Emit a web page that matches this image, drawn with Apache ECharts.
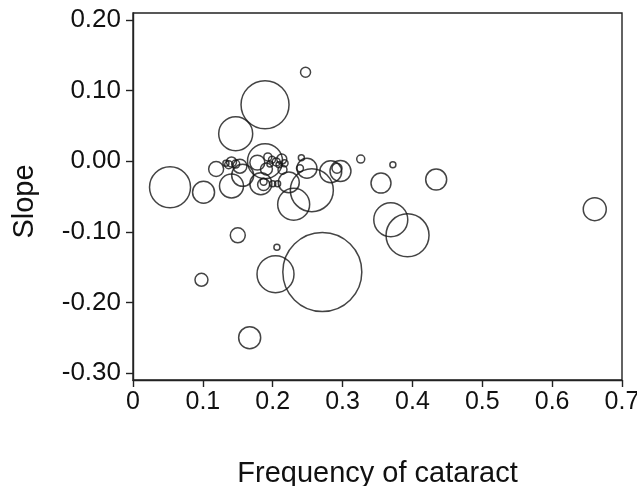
<!DOCTYPE html>
<html>
<head>
<meta charset="utf-8">
<script src="https://cdn.jsdelivr.net/npm/echarts@6/dist/echarts.min.js"></script>
<style>
html,body{margin:0;padding:0;background:#fff;}
#chart{width:637px;height:486px;}
</style>
</head>
<body>
<div id="chart"></div>
<script>
// Frequency of cataract (x)
var frequency = [0.247,0.189,0.147,0.053,0.101,0.141,0.119,0.189,0.178,0.191,
  0.213,0.214,0.249,0.241,0.239,0.283,0.297,0.292,0.256,0.230,
  0.223,0.183,0.187,0.187,0.200,0.207,0.326,0.372,0.355,0.434,
  0.369,0.393,0.150,0.206,0.098,0.204,0.271,0.167,0.661,0.141,
  0.147,0.137,0.153,0.133,0.193,0.199,0.205,0.196,0.209,0.217,0.157];
// Slope (y)
var slope = [0.126,0.080,0.039,-0.037,-0.044,-0.035,-0.011,0.000,-0.002,-0.011,
  0.003,-0.012,-0.010,0.005,-0.010,-0.015,-0.014,-0.010,-0.041,-0.061,
  -0.030,-0.032,-0.033,-0.029,-0.032,-0.032,0.003,-0.005,-0.031,-0.026,
  -0.083,-0.105,-0.105,-0.122,-0.168,-0.160,-0.157,-0.250,-0.068,-0.001,
  -0.004,-0.005,-0.007,-0.003,0.006,0.002,-0.001,-0.004,-0.005,-0.003,-0.020];
// Relative weight of each study (bubble area)
var weight = [25,576,289,420,121,144,56,306,56,36,
  25,20,100,9,12,121,110,25,462,256,
  110,121,36,12,9,9,16,9,100,110,
  289,462,56,9,42,342,1560,121,132,25,
  16,16,49,9,16,12,16,9,9,12,121];
var xTicks = [0,0.1,0.2,0.3,0.4,0.5,0.6,0.7];
var yTicks = [-0.3,-0.2,-0.1,0,0.1,0.2];

var points = frequency.map(function(f,i){ return [f, slope[i], weight[i]]; });
var FONT = '"Liberation Sans", Arial, Helvetica, sans-serif';
var chart = echarts.init(document.getElementById('chart'));
chart.setOption({
  animation:false,
  backgroundColor:'#fff',
  grid:{left:133,right:15,top:13,bottom:106,outerBoundsMode:'none',containLabel:false,
    show:true,borderColor:'#222',borderWidth:1.4,backgroundColor:'transparent'},
  xAxis:{
    type:'value', min:0, max:0.7, interval:0.1,
    name:'Frequency of cataract', nameLocation:'middle', nameGap:79,
    nameTextStyle:{fontFamily:FONT,fontSize:29,color:'#111'},
    axisLine:{show:true,onZero:false,lineStyle:{color:'#222',width:1.4}},
    axisTick:{show:true,inside:false,length:7,customValues:xTicks,lineStyle:{color:'#222',width:1.4}},
    splitLine:{show:false},
    axisLabel:{margin:10,fontFamily:FONT,fontSize:25,color:'#111',customValues:xTicks,
      formatter:function(v){ return (+v)===0 ? '0' : (+v).toFixed(1); }}
  },
  yAxis:{
    type:'value', min:-0.31, max:0.21,
    name:'Slope', nameLocation:'middle', nameGap:94,
    nameTextStyle:{fontFamily:FONT,fontSize:29,color:'#111',padding:[0,10,0,0]},
    axisLine:{show:true,onZero:false,lineStyle:{color:'#222',width:1.4}},
    axisTick:{show:true,inside:false,length:7,customValues:yTicks,lineStyle:{color:'#222',width:1.4}},
    splitLine:{show:false},
    axisLabel:{margin:12,fontFamily:FONT,fontSize:26,color:'#111',customValues:yTicks,
      formatter:function(v){ return (+v).toFixed(2); }}
  },
  series:[{
    type:'scatter',
    data:points,
    symbol:'circle',
    symbolSize:function(d){ return Math.sqrt(d[2])*2; },
    itemStyle:{color:'rgba(0,0,0,0)',borderColor:'#151515',borderWidth:1.5},
    emphasis:{disabled:true}
  }]
});
</script>
</body>
</html>
